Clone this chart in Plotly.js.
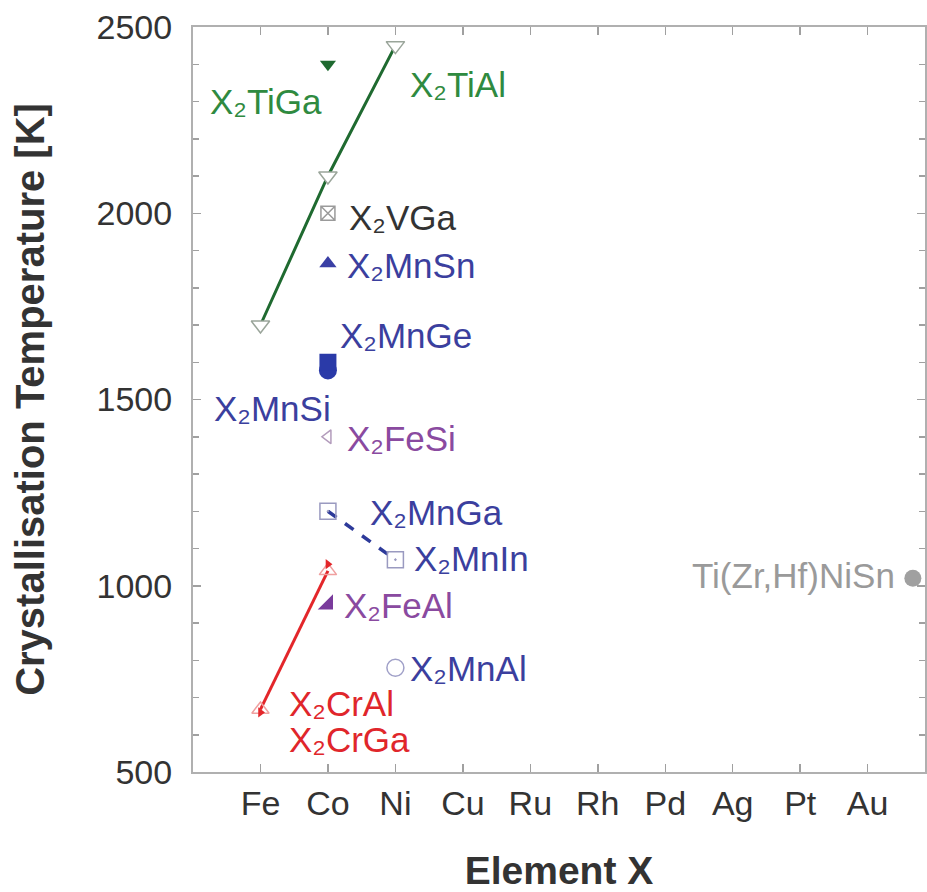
<!DOCTYPE html>
<html>
<head>
<meta charset="utf-8">
<script src="https://cdn.plot.ly/plotly-3.0.1.min.js"></script>
<style>html,body{margin:0;padding:0;background:#fff;}#chart{width:927px;height:892px;}</style>
</head>
<body>
<div id="chart"></div>
<script>
// Categories (element X) and their axis positions
const elements = ["Fe", "Co", "Ni", "Cu", "Ru", "Rh", "Pd", "Ag", "Pt", "Au"];
const elementPos = [0, 1, 2, 3, 4, 5, 6, 7, 8, 9];

// Series: x position (index into elements) and crystallisation temperature [K]
const tiAlX = [0, 1, 2];       const tiAlY = [1700, 2100, 2450];
const tiGaX = [1];             const tiGaY = [2400];
const vGaX = [1];              const vGaY = [2000];
const mnSnX = [1];             const mnSnY = [1865];
const mnGeX = [1];             const mnGeY = [1600];
const mnSiX = [1];             const mnSiY = [1578];
const feSiX = [1];             const feSiY = [1400];
const mnGaInX = [1, 2];        const mnGaInY = [1200, 1070];
const feAlX = [1];             const feAlY = [950];
const mnAlX = [2];             const mnAlY = [780];
const crAlX = [0, 1];          const crAlY = [668, 1040];
const crGaX = [0, 1];          const crGaY = [660, 1058];
const halfHeuslerX = [9.67];   const halfHeuslerY = [1020];

// Labels
const labelText = ["X₂TiGa", "X₂TiAl", "X₂VGa", "X₂MnSn", "X₂MnGe", "X₂MnSi", "X₂FeSi",
  "X₂MnGa", "X₂MnIn", "X₂FeAl", "X₂MnAl", "X₂CrAl", "X₂CrGa", "Ti(Zr,Hf)NiSn"];
const labelX = [-0.78, 2.19, 1.28, 1.25, 1.15, -0.72, 1.25, 1.59, 2.25, 1.21, 2.19, 0.39, 0.39, 9.43];
const labelY = [2300, 2345, 1988, 1859, 1672, 1476, 1395, 1197, 1074, 948, 779, 685, 586, 1028];
const labelAnchor = ["left","left","left","left","left","left","left","left","left","left","left","left","left","right"];
const labelColor = ["#2f8a40","#2f8a40","#333333","#3b3f9e","#3b3f9e","#3b3f9e","#8a4aa0","#3b3f9e","#3b3f9e",
  "#8a4aa0","#3b3f9e","#e0262b","#e0262b","#9a9a9a"];

const GREEN = "#1f6a30", BLUE = "#2d3a9a", RED = "#e3262a", PURPLE = "#7a3b9c";

const traces = [
  {x: tiAlX, y: tiAlY, mode: "lines+markers", line: {color: GREEN, width: 3},
   marker: {symbol: "triangle-down", size: 16, color: "#ffffff", line: {color: "#9aa59a", width: 1.5}}},
  {x: tiGaX, y: tiGaY, mode: "markers", marker: {symbol: "triangle-down", size: 14, color: GREEN}},
  {x: vGaX, y: vGaY, mode: "markers", marker: {symbol: "square-x-open", size: 14, color: "#9a9a9a", line: {width: 1.5}}},
  {x: mnSnX, y: mnSnY, mode: "markers", marker: {symbol: "triangle-up", size: 15, color: "#3a3fa5"}},
  {x: mnSiX, y: mnSiY, mode: "markers", marker: {symbol: "circle", size: 18, color: "#2a3aa8"}},
  {x: mnGeX, y: mnGeY, mode: "markers", marker: {symbol: "square", size: 17, color: "#2a3aa8"}},
  {x: feSiX, y: feSiY, mode: "markers", marker: {symbol: "triangle-left-open", size: 12, color: "#b39cbc", line: {width: 1.5}}},
  {x: mnGaInX, y: mnGaInY, mode: "lines+markers", line: {color: BLUE, width: 3.5, dash: "dash"},
   marker: {symbol: "square-open-dot", size: 16, color: "#9a9ac0", line: {width: 1.5}}},
  {x: feAlX, y: feAlY, mode: "markers", marker: {symbol: "triangle-se", size: 17, color: PURPLE}},
  {x: mnAlX, y: mnAlY, mode: "markers", marker: {symbol: "circle-open", size: 17, color: "#a0a0c8", line: {width: 1.5}}},
  {x: crAlX, y: crAlY, mode: "lines+markers", line: {color: RED, width: 3},
   marker: {symbol: "triangle-up-open", size: 15, color: "#f0a0a0", line: {width: 1.5}}},
  {x: crGaX, y: crGaY, mode: "markers", marker: {symbol: "triangle-right", size: 9, color: RED}},
  {x: halfHeuslerX, y: halfHeuslerY, mode: "markers", marker: {symbol: "circle", size: 17, color: "#a0a0a0"}}
];

const annotations = labelText.map((t, i) => ({
  x: labelX[i], y: labelY[i], xref: "x", yref: "y", text: t, showarrow: false,
  xanchor: labelAnchor[i], yanchor: "middle",
  font: {family: "Liberation Sans, Arial, sans-serif", size: 35, color: labelColor[i]}
}));

const axisCommon = {
  showline: true, linecolor: "#b0b0b0", linewidth: 2, mirror: "ticks",
  ticks: "inside", tickcolor: "#a0a0a0", tickwidth: 1.5, ticklen: 8,
  showgrid: false, zeroline: false,
  tickfont: {family: "Liberation Sans, Arial, sans-serif", size: 34, color: "#333333"}
};

const layout = {
  width: 927, height: 892, autosize: false,
  margin: {l: 193, r: 2, t: 27, b: 120},
  paper_bgcolor: "#ffffff", plot_bgcolor: "#ffffff",
  showlegend: false,
  xaxis: Object.assign({}, axisCommon, {
    range: [-1, 9.85], tickmode: "array", tickvals: elementPos, ticktext: elements,
    automargin: false, ticklabelstandoff: 0,
    title: {text: "<b>Element X</b>", standoff: 47,
      font: {family: "Liberation Sans, Arial, sans-serif", size: 39, color: "#333333"}}
  }),
  yaxis: Object.assign({}, axisCommon, {
    range: [500, 2500], tickmode: "array", tickvals: [500, 1000, 1500, 2000, 2500],
    automargin: false, ticklabelstandoff: 12,
    minor: {dtick: 100, ticks: "inside", ticklen: 6, tickcolor: "#a0a0a0", tickwidth: 1.5},
    title: {text: "<b>Crystallisation Temperature [K]</b>", standoff: 40,
      font: {family: "Liberation Sans, Arial, sans-serif", size: 40, color: "#333333"}}
  }),
  annotations: annotations
};

Plotly.newPlot("chart", traces, layout, {displayModeBar: false, staticPlot: true});
</script>
</body>
</html>
